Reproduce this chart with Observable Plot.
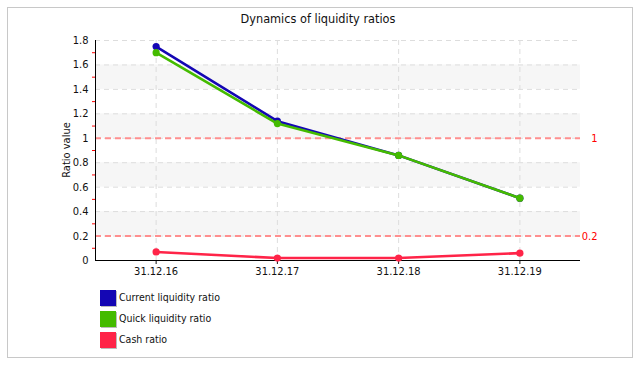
<!DOCTYPE html>
<html>
<head>
<meta charset="utf-8">
<script src="https://cdn.jsdelivr.net/npm/d3@7"></script>
<script src="https://cdn.jsdelivr.net/npm/@observablehq/plot@0.6"></script>
<style>
  html, body { margin: 0; padding: 0; background: #fff; }
  body { width: 640px; height: 365px; position: relative; overflow: hidden;
         font-family: "DejaVu Sans Condensed", "DejaVu Sans", sans-serif; font-stretch: condensed; }
  #frame { position: absolute; left: 7px; top: 7px; border: 1px solid #c8c8c8; box-sizing: border-box; width: 626px; height: 351px; }
  #chart { position: absolute; left: 0; top: 0; }
  #title { position: absolute; left: 0; width: 636px; top: 11px; text-align: center; font-size: 12.6px; color: #111; }
  #ylabel { position: absolute; left: 67px; top: 150px; width: 120px; height: 14px; margin-left: -60px; margin-top: -7px;
            line-height: 14px; text-align: center; font-size: 11px; color: #111; transform: rotate(-90deg); white-space: nowrap; }
  .leg { position: absolute; left: 100px; height: 16px; font-size: 10.5px; color: #111; }
  .leg .sw { position: absolute; left: 0; top: 0; width: 16px; height: 16px; box-shadow: 1px 1px 0 #bbb; }
  .leg .lb { position: absolute; left: 19px; top: 1px; white-space: nowrap; }
</style>
</head>
<body>
<div id="frame"></div>
<div id="chart"></div>
<div id="title">Dynamics of liquidity ratios</div>
<div id="ylabel">Ratio value</div>
<div id="legend"></div>
<script>
const categories = ["31.12.16", "31.12.17", "31.12.18", "31.12.19"];
const currentRatio = [1.75, 1.14, 0.86, 0.51];
const quickRatio = [1.70, 1.12, 0.86, 0.51];
const cashRatio = [0.07, 0.02, 0.02, 0.06];
const seriesNames = ["Current liquidity ratio", "Quick liquidity ratio", "Cash ratio"];
const seriesColors = ["#1406b4", "#44bb00", "#ff2448"];
const yTicks = [0, 0.2, 0.4, 0.6, 0.8, 1, 1.2, 1.4, 1.6, 1.8];
const yMinor = [0.1, 0.3, 0.5, 0.7, 0.9, 1.1, 1.3, 1.5, 1.7];
const bandLo = [0.2, 0.6, 1.0, 1.4];
const bandHi = [0.4, 0.8, 1.2, 1.6];
const refValues = [1, 0.2];
const refLabels = ["1", "0.2"];

const idx = categories.map((_, i) => i);
const bands = bandLo.map((lo, i) => ({lo, hi: bandHi[i]}));
const seriesValues = [currentRatio, quickRatio, cashRatio];
const xLo = -0.5, xHi = categories.length - 0.5;

const lineMarks = [];
seriesValues.forEach((vals, s) => {
  lineMarks.push(Plot.line(idx, {x: i => i, y: i => vals[i], stroke: seriesColors[s], strokeWidth: 2.6}));
  lineMarks.push(Plot.dot(idx, {x: i => i, y: i => vals[i], fill: seriesColors[s], r: 3.6}));
});

const chart = Plot.plot({
  width: 640,
  height: 365,
  marginLeft: 95,
  marginRight: 60,
  marginTop: 40,
  marginBottom: 105,
  style: {fontFamily: '"DejaVu Sans Condensed", "DejaVu Sans", sans-serif', fontSize: "11px", background: "transparent", overflow: "visible", color: "#111"},
  x: {type: "linear", domain: [xLo, xHi]},
  y: {domain: [0, 1.8]},
  marks: [
    Plot.rect(bands, {x1: xLo, x2: xHi, y1: "lo", y2: "hi", fill: "#f6f6f6"}),
    Plot.ruleY(yTicks.slice(1), {stroke: "#dddddd", strokeDasharray: "5,4"}),
    Plot.ruleX(idx, {stroke: "#dddddd", strokeDasharray: "5,4"}),
    Plot.ruleY(refValues, {stroke: "#ff8f8f", strokeWidth: 2, strokeDasharray: "6,4"}),
    Plot.text(refValues, {y: d => d, text: (d, i) => refLabels[i], frameAnchor: "right", dx: 17, textAnchor: "end", fill: "#ff0000", fontSize: 11}),
    Plot.axisY(yTicks, {tickSize: 0, tickPadding: 7, tickFormat: d => String(d), label: null}),
    Plot.axisY(yMinor, {tickSize: 3, stroke: "#ff0000", tickFormat: () => "", label: null}),
    Plot.axisX(idx, {tickSize: 4, tickPadding: 3, tickFormat: i => categories[i], label: null}),
    Plot.ruleX([xLo], {stroke: "#000"}),
    Plot.ruleY([0], {stroke: "#000"}),
    ...lineMarks
  ]
});
document.getElementById("chart").appendChild(chart);

const legend = document.getElementById("legend");
seriesNames.forEach((name, i) => {
  const row = document.createElement("div");
  row.className = "leg";
  row.style.top = (290 + i * 21) + "px";
  row.innerHTML = `<div class="sw" style="background:${seriesColors[i]}"></div><div class="lb">${name}</div>`;
  legend.appendChild(row);
});
</script>
</body>
</html>
